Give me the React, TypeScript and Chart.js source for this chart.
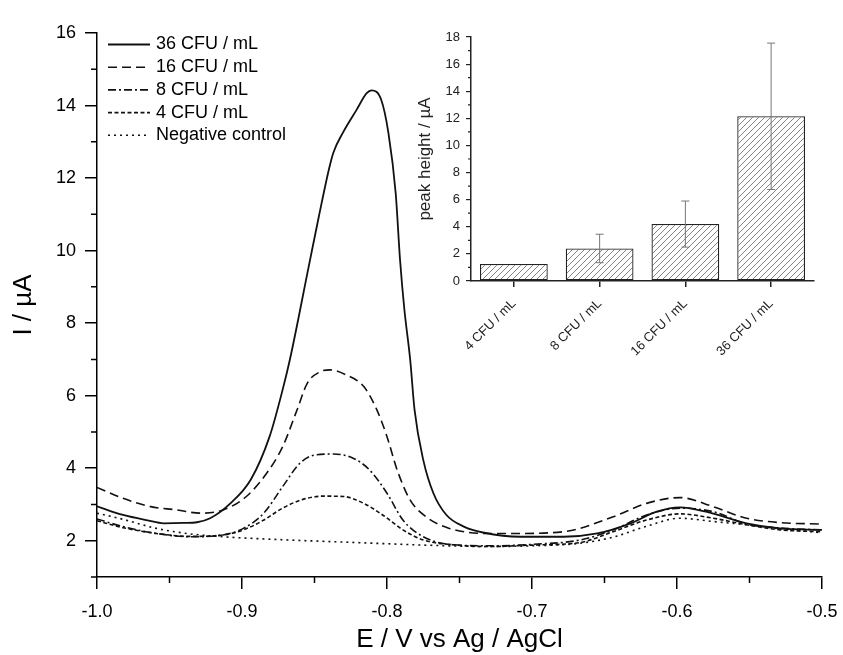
import React, { useEffect, useRef } from "react";
import { Chart, registerables } from "chart.js";

Chart.register(...registerables);

const FONT = "'Liberation Sans', Arial, Helvetica, sans-serif";

// ---------- main chart data (E / V vs Ag/AgCl, I / µA) ----------
const e36 = [-1.0, -0.982, -0.965, -0.954, -0.94, -0.931, -0.922, -0.908, -0.894, -0.881, -0.872, -0.867, -0.854, -0.847, -0.84, -0.837, -0.83, -0.821, -0.814, -0.8106, -0.804, -0.799, -0.794, -0.791, -0.788, -0.784, -0.781, -0.775, -0.768, -0.759, -0.747, -0.733, -0.708, -0.678, -0.655, -0.632, -0.614, -0.598, -0.58, -0.552, -0.529, -0.5];
const i36 = [2.95, 2.71, 2.56, 2.48, 2.49, 2.51, 2.62, 3.03, 3.68, 4.87, 6.16, 6.99, 9.56, 10.94, 12.25, 12.7, 13.28, 13.88, 14.34, 14.42, 14.16, 13.24, 11.58, 9.74, 8.37, 6.99, 5.61, 4.23, 3.31, 2.71, 2.39, 2.22, 2.11, 2.11, 2.2, 2.48, 2.8, 2.92, 2.8, 2.48, 2.34, 2.3];

const e16 = [-1.0, -0.982, -0.963, -0.945, -0.929, -0.913, -0.897, -0.883, -0.872, -0.862, -0.855, -0.846, -0.839, -0.828, -0.816, -0.807, -0.8, -0.793, -0.784, -0.773, -0.757, -0.729, -0.713, -0.678, -0.644, -0.621, -0.598, -0.575, -0.552, -0.529, -0.5];
const i16 = [3.47, 3.17, 2.94, 2.85, 2.76, 2.85, 3.22, 3.86, 4.59, 5.61, 6.34, 6.66, 6.71, 6.57, 6.25, 5.61, 4.87, 3.95, 3.12, 2.66, 2.34, 2.2, 2.2, 2.25, 2.66, 3.03, 3.19, 2.94, 2.62, 2.5, 2.46];

const e8 = [-1.0, -0.982, -0.959, -0.936, -0.913, -0.899, -0.885, -0.872, -0.86, -0.849, -0.837, -0.823, -0.812, -0.8, -0.789, -0.775, -0.757, -0.729, -0.7, -0.667, -0.644, -0.621, -0.598, -0.575, -0.552, -0.529, -0.5];
const i8 = [2.6, 2.39, 2.2, 2.11, 2.16, 2.34, 2.76, 3.49, 4.14, 4.37, 4.39, 4.27, 3.95, 3.31, 2.57, 2.11, 1.9, 1.86, 1.9, 2.02, 2.3, 2.71, 2.9, 2.8, 2.46, 2.35, 2.3];

const e4 = [-1.0, -0.982, -0.959, -0.936, -0.913, -0.899, -0.885, -0.872, -0.858, -0.844, -0.83, -0.816, -0.803, -0.789, -0.775, -0.752, -0.729, -0.7, -0.667, -0.644, -0.621, -0.598, -0.575, -0.552, -0.529, -0.5];
const i4 = [2.55, 2.36, 2.2, 2.12, 2.16, 2.3, 2.57, 2.9, 3.14, 3.23, 3.22, 3.03, 2.71, 2.3, 2.02, 1.88, 1.84, 1.88, 1.95, 2.25, 2.57, 2.74, 2.62, 2.44, 2.3, 2.25];

const eNC = [-1.0, -0.982, -0.959, -0.936, -0.913, -0.867, -0.821, -0.775, -0.729, -0.7, -0.667, -0.644, -0.621, -0.598, -0.575, -0.552, -0.529, -0.5];
const iNC = [2.76, 2.59, 2.34, 2.19, 2.11, 2.02, 1.95, 1.88, 1.84, 1.86, 1.93, 2.1, 2.4, 2.62, 2.53, 2.44, 2.33, 2.22];

const seriesLabels = ["36 CFU / mL", "16 CFU / mL", "8 CFU / mL", "4 CFU / mL", "Negative control"];
const seriesDash = [[], [9, 5], [8, 3, 2, 3], [4, 2.5], [2, 4]];

const xTickValues = [-1.0, -0.9, -0.8, -0.7, -0.6, -0.5];
const xMinorValues = [-0.95, -0.85, -0.75, -0.65, -0.55];
const yTickValues = [2, 4, 6, 8, 10, 12, 14, 16];
const yMinorValues = [1, 3, 5, 7, 9, 11, 13, 15];

// ---------- inset bar chart data ----------
const insetCategories = ["4 CFU / mL", "8 CFU / mL", "16 CFU / mL", "36 CFU / mL"];
const insetValues = [1.25, 2.4, 4.2, 12.15];
const insetErrors = [0, 1.05, 1.7, 5.4];
const insetTickValues = [0, 2, 4, 6, 8, 10, 12, 14, 16, 18];
const insetMinorValues = [1, 3, 5, 7, 9, 11, 13, 15, 17];

const toPoints = (xs: number[], ys: number[]) => xs.map((x, i) => ({ x, y: ys[i] }));

const minorTicksPlugin = {
  id: "minorTicks",
  afterDraw(chart: any, _args: any, opts: any) {
    const ctx = chart.ctx;
    (opts.axes || []).forEach((a: any) => {
      const scale = chart.scales[a.id];
      if (!scale) return;
      ctx.save();
      ctx.strokeStyle = a.color;
      ctx.lineWidth = a.width;
      ctx.beginPath();
      a.values.forEach((v: number) => {
        const p = scale.getPixelForValue(v);
        if (scale.isHorizontal()) {
          ctx.moveTo(p, scale.top);
          ctx.lineTo(p, scale.top + a.length);
        } else {
          ctx.moveTo(scale.right, p);
          ctx.lineTo(scale.right - a.length, p);
        }
      });
      ctx.stroke();
      ctx.restore();
    });
  },
};

const lineLegendPlugin = {
  id: "lineLegend",
  afterDraw(chart: any, _args: any, o: any) {
    const ctx = chart.ctx;
    const { left, top } = chart.chartArea;
    chart.data.datasets.forEach((ds: any, i: number) => {
      const y = top + o.offsetY + i * o.rowHeight;
      const x = left + o.offsetX;
      ctx.save();
      ctx.strokeStyle = ds.borderColor;
      ctx.lineWidth = ds.borderWidth;
      ctx.setLineDash(ds.borderDash || []);
      ctx.beginPath();
      ctx.moveTo(x, y);
      ctx.lineTo(x + o.lineLength, y);
      ctx.stroke();
      ctx.setLineDash([]);
      ctx.fillStyle = o.color;
      ctx.font = o.font;
      ctx.textBaseline = "middle";
      ctx.textAlign = "left";
      ctx.fillText(ds.label, x + o.lineLength + o.gap, y);
      ctx.restore();
    });
  },
};

const errorBarPlugin = {
  id: "errorBars",
  afterDatasetsDraw(chart: any, _args: any, o: any) {
    const ctx = chart.ctx;
    const yScale = chart.scales.y;
    chart.data.datasets.forEach((ds: any, di: number) => {
      const meta = chart.getDatasetMeta(di);
      const errs: number[] = ds.errors || [];
      meta.data.forEach((bar: any, i: number) => {
        const e = errs[i];
        if (!e) return;
        const v = ds.data[i];
        const top = yScale.getPixelForValue(v + e);
        const bot = yScale.getPixelForValue(v - e);
        ctx.save();
        ctx.strokeStyle = o.color;
        ctx.lineWidth = o.width;
        ctx.beginPath();
        ctx.moveTo(bar.x, top);
        ctx.lineTo(bar.x, bot);
        ctx.moveTo(bar.x - o.cap, top);
        ctx.lineTo(bar.x + o.cap, top);
        ctx.moveTo(bar.x - o.cap, bot);
        ctx.lineTo(bar.x + o.cap, bot);
        ctx.stroke();
        ctx.restore();
      });
    });
  },
};

function makeHatch(): CanvasPattern | string {
  const c = document.createElement("canvas");
  c.width = 6;
  c.height = 6;
  const g = c.getContext("2d");
  if (!g) return "#fff";
  g.fillStyle = "#fff";
  g.fillRect(0, 0, 6, 6);
  g.strokeStyle = "#666";
  g.lineWidth = 0.8;
  g.beginPath();
  g.moveTo(0, 6);
  g.lineTo(6, 0);
  g.moveTo(-1, 1);
  g.lineTo(1, -1);
  g.moveTo(5, 7);
  g.lineTo(7, 5);
  g.stroke();
  return g.createPattern(c, "repeat") || "#fff";
}

export default function App() {
  const mainRef = useRef<HTMLCanvasElement>(null);
  const insetRef = useRef<HTMLCanvasElement>(null);

  useEffect(() => {
    const xs = [e36, e16, e8, e4, eNC];
    const ys = [i36, i16, i8, i4, iNC];
    const main = new Chart(mainRef.current as HTMLCanvasElement, {
      type: "line",
      data: {
        datasets: seriesLabels.map((label, k) => ({
          label,
          data: toPoints(xs[k], ys[k]),
          borderColor: "#111",
          borderWidth: k === 0 ? 1.8 : 1.6,
          borderDash: seriesDash[k],
          pointRadius: 0,
          fill: false,
          cubicInterpolationMode: "monotone" as const,
        })),
      },
      options: {
        animation: false,
        responsive: false,
        layout: { padding: { top: 33, right: 21, left: 0, bottom: 0 } },
        plugins: {
          legend: { display: false },
          tooltip: { enabled: false },
          minorTicks: {
            axes: [
              { id: "x", values: xMinorValues, length: 6, color: "#000", width: 1.5 },
              { id: "y", values: yMinorValues, length: 6, color: "#000", width: 1.5 },
            ],
          },
          lineLegend: {
            offsetX: 11,
            offsetY: 11.5,
            rowHeight: 22.7,
            lineLength: 42,
            gap: 6,
            color: "#000",
            font: `18px ${FONT}`,
          },
        } as any,
        scales: {
          x: {
            type: "linear",
            min: -1.0,
            max: -0.5,
            afterBuildTicks: (s: any) => {
              s.ticks = xTickValues.map((v) => ({ value: v }));
            },
            afterFit: (s: any) => {
              s.height = 78;
              s.paddingLeft = 0;
              s.paddingRight = 0;
            },
            border: { display: true, color: "#000", width: 1.5 },
            grid: { display: true, drawOnChartArea: false, drawTicks: true, tickLength: 12, color: "#000", lineWidth: 1.5 },
            ticks: {
              color: "#000",
              font: { family: FONT, size: 18 },
              padding: 12,
              maxRotation: 0,
              autoSkip: false,
              callback: (v: any) => Number(v).toFixed(1),
            },
            title: {
              display: true,
              text: "E / V vs Ag / AgCl",
              color: "#000",
              font: { family: FONT, size: 26 },
              padding: { top: 0, bottom: 0 },
            },
          },
          y: {
            type: "linear",
            min: 1,
            max: 16,
            afterBuildTicks: (s: any) => {
              s.ticks = yTickValues.map((v) => ({ value: v }));
            },
            afterFit: (s: any) => {
              s.width = 97;
            },
            border: { display: true, color: "#000", width: 1.5 },
            grid: { display: true, drawOnChartArea: false, drawTicks: true, tickLength: 12, color: "#000", lineWidth: 1.5 },
            ticks: {
              color: "#000",
              font: { family: FONT, size: 18 },
              padding: 9,
              autoSkip: false,
            },
            title: {
              display: true,
              text: "I / µA",
              color: "#000",
              font: { family: FONT, size: 26 },
              padding: { top: 8, bottom: 0 },
            },
          },
        },
      },
      plugins: [minorTicksPlugin, lineLegendPlugin],
    } as any);

    const inset = new Chart(insetRef.current as HTMLCanvasElement, {
      type: "bar",
      data: {
        labels: insetCategories,
        datasets: [
          {
            label: "peak height",
            data: insetValues,
            errors: insetErrors,
            backgroundColor: makeHatch(),
            borderColor: "#222",
            borderWidth: 1.3,
            borderSkipped: false,
            barPercentage: 0.79,
            categoryPercentage: 1,
          } as any,
        ],
      },
      options: {
        animation: false,
        responsive: false,
        layout: { padding: { top: 17, right: 16, left: 0, bottom: 0 } },
        plugins: {
          legend: { display: false },
          tooltip: { enabled: false },
          minorTicks: {
            axes: [{ id: "y", values: insetMinorValues, length: 3, color: "#222", width: 1.2 }],
          },
          errorBars: { color: "#777", width: 1, cap: 4 },
        } as any,
        scales: {
          x: {
            type: "category",
            offset: true,
            afterFit: (s: any) => {
              s.height = 79;
            },
            border: { display: true, color: "#222", width: 1.5 },
            grid: { display: true, offset: false, drawOnChartArea: false, drawTicks: true, tickLength: 6, color: "#222", lineWidth: 1.5 },
            ticks: {
              color: "#222",
              font: { family: FONT, size: 13 },
              minRotation: 45,
              maxRotation: 45,
              padding: 9,
              autoSkip: false,
            },
          },
          y: {
            type: "linear",
            min: 0,
            max: 18,
            afterBuildTicks: (s: any) => {
              s.ticks = insetTickValues.map((v) => ({ value: v }));
            },
            afterFit: (s: any) => {
              s.width = 71;
            },
            border: { display: true, color: "#222", width: 1.5 },
            grid: { display: true, drawOnChartArea: false, drawTicks: true, tickLength: 5, color: "#222", lineWidth: 1.2 },
            ticks: {
              color: "#222",
              font: { family: FONT, size: 13 },
              padding: 6,
              autoSkip: false,
            },
            title: {
              display: true,
              text: "peak height / µA",
              color: "#222",
              font: { family: FONT, size: 17 },
              padding: { top: 15, bottom: 0 },
            },
          },
        },
      },
      plugins: [minorTicksPlugin, errorBarPlugin],
    } as any);

    return () => {
      main.destroy();
      inset.destroy();
    };
  }, []);

  return (
    <div style={{ position: "absolute", left: 0, top: 0, width: 843, height: 655, background: "#fff", overflow: "hidden" }}>
      <canvas ref={mainRef} width={843} height={655} style={{ position: "absolute", left: 0, top: 0 }} />
      <canvas ref={insetRef} width={430} height={340} style={{ position: "absolute", left: 400, top: 20 }} />
    </div>
  );
}
